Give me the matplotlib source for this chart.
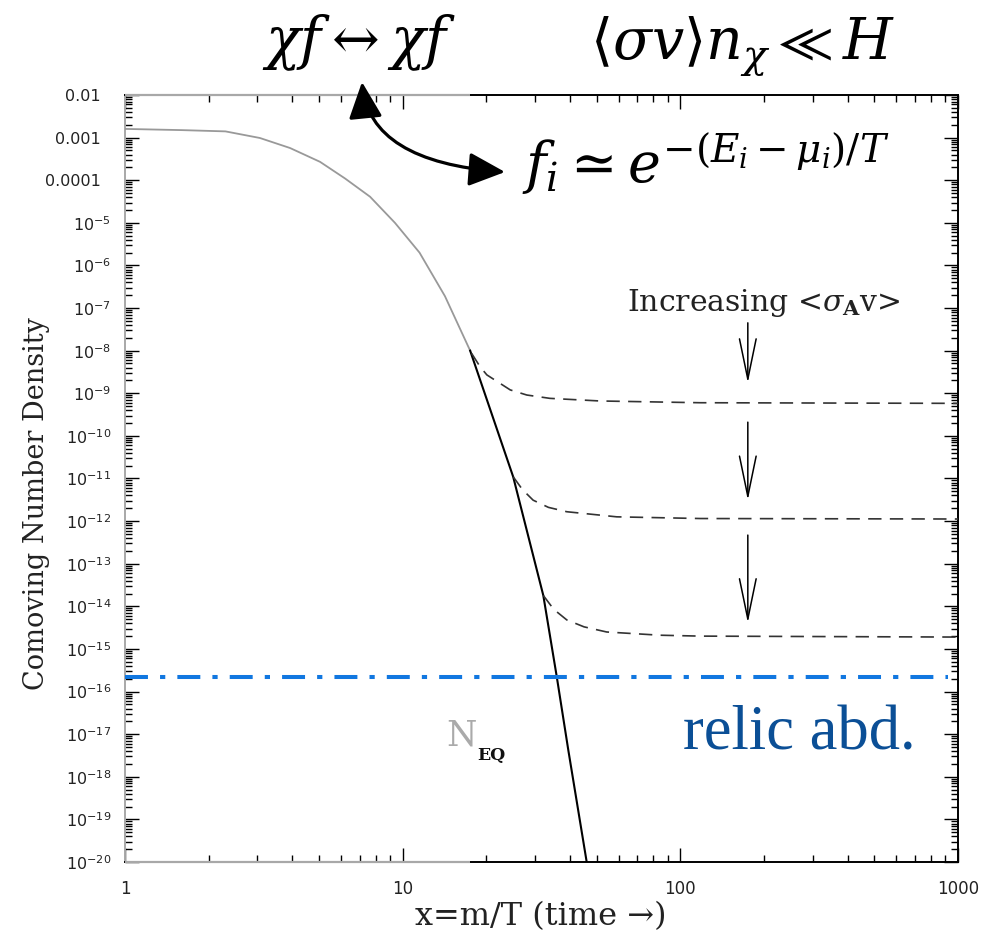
import numpy as np
import matplotlib
matplotlib.use("Agg")
import matplotlib.pyplot as plt
from matplotlib.patches import FancyArrowPatch
from matplotlib.path import Path
from matplotlib.ticker import FixedLocator, FixedFormatter, NullFormatter

# equilibrium abundance N_EQ (grey part, before freeze-out)
eq_x = [1.0, 1.6, 2.3, 3.06, 3.93, 5.04, 6.2, 7.63, 9.38, 11.5, 14.2, 17.5]
eq_y = [1.6e-3, 1.5e-3, 1.4e-3, 9.8e-4, 5.7e-4, 2.7e-4, 1.1e-4, 4.1e-5, 1.0e-5,
        2.0e-6, 1.9e-7, 1.0e-8]
# equilibrium tail (black part)
eq_tail_x = [17.5, 25.0, 32.1, 35.9, 39.5, 46.0]
eq_tail_y = [1.0e-8, 1.1e-11, 1.8e-14, 2.2e-16, 4.2e-18, 1.0e-20]

# frozen-out abundances, one per annihilation cross section
fo1_x = [17.7, 19.0, 20.1, 24.4, 28.0, 33.9, 51.3, 118.0, 1000.0]
fo1_y = [8.7e-9, 4.2e-9, 2.7e-9, 1.2e-9, 9.1e-10, 7.6e-10, 6.6e-10, 6.0e-10, 5.8e-10]
fo2_x = [25.0, 27.0, 29.5, 33.5, 39.0, 59.0, 118.0, 1000.0]
fo2_y = [1.1e-11, 5.5e-12, 3.1e-12, 2.1e-12, 1.66e-12, 1.26e-12, 1.15e-12, 1.12e-12]
fo3_x = [32.1, 35.0, 39.0, 45.0, 54.3, 84.4, 118.0, 1000.0]
fo3_y = [1.8e-14, 8.5e-15, 4.8e-15, 3.3e-15, 2.5e-15, 2.1e-15, 2.0e-15, 1.9e-15]

relic_y = 2.2e-16

# "increasing <sigma v>" arrows: (start, end) in y at x = arrow_x
arrow_x = 175.0
arrow_spans = [(4.5e-8, 1.75e-9), (2.1e-10, 3.1e-12), (4.7e-13, 4.1e-15)]

x_ticks = [1, 10, 100, 1000]
x_tick_labels = ["1", "10", "100", "1000"]
y_ticks = [10.0 ** e for e in range(-20, -1)]
y_tick_labels = [r"$10^{%d}$" % e for e in range(-20, -4)] + ["0.0001  ", "0.001  ", "0.01  "]

GREY = "#a8a8a8"
FREEZE_X = 17.5

W, H = 994, 942
fig = plt.figure(figsize=(W / 100, H / 100), dpi=100)
plt.rcParams["mathtext.fontset"] = "dejavusans"

ax = fig.add_axes([125 / W, 1 - 862 / H, (958 - 125) / W, (862 - 95) / H])
ax.set_xscale("log")
ax.set_yscale("log")
ax.set_xlim(1, 1000)
ax.set_ylim(1e-20, 1e-2)

ax.plot(eq_x, eq_y, color="#999999", lw=1.3, zorder=3)
ax.plot(eq_tail_x, eq_tail_y, color="black", lw=1.5, zorder=3)
for fx, fy in [(fo1_x, fo1_y), (fo2_x, fo2_y), (fo3_x, fo3_y)]:
    ax.plot(fx, fy, color="#333333", lw=1.2, dashes=(8, 5), zorder=3)

ax.axhline(relic_y, xmax=0.988, color="#1177e0", lw=2.9, dashes=(5.7, 3.0, 1.3, 3.0),
           solid_capstyle="butt", dash_capstyle="butt", zorder=4)

for y0, y1 in arrow_spans:
    ax.annotate("", xy=(arrow_x, y1), xytext=(arrow_x, y0),
                arrowprops=dict(arrowstyle="->,head_length=2.9,head_width=0.6",
                                mutation_scale=10, lw=1.1, color="black",
                                shrinkA=0, shrinkB=0))

ax.text(200, 8.5e-8, r"Increasing <$\sigma_{\mathbf{A}}$v>", family="DejaVu Serif",
        fontsize=21.5, ha="center", va="baseline", color="#222222",
        math_fontfamily="dejavuserif")
ax.text(14.4, 5.5e-18, "N", family="DejaVu Serif", fontsize=25, color="#aaaaaa",
        ha="left", va="baseline")
ax.text(18.5, 2.45e-18, "EQ", family="DejaVu Serif", fontsize=12.5,
        fontweight="bold", color="#111111", ha="left", va="baseline")

ax.text(0.670, 0.147, "relic abd.", transform=ax.transAxes, family="Liberation Serif",
        fontsize=45, color="#0b4f96", ha="left", va="baseline")

# ticks
ax.xaxis.set_major_locator(FixedLocator(x_ticks))
ax.xaxis.set_major_formatter(FixedFormatter(x_tick_labels))
x_minor = [m * 10 ** d for d in range(0, 3) for m in range(2, 10)]
ax.xaxis.set_minor_locator(FixedLocator(x_minor))
ax.xaxis.set_minor_formatter(NullFormatter())
ax.yaxis.set_major_locator(FixedLocator(y_ticks))
ax.yaxis.set_major_formatter(FixedFormatter(y_tick_labels))
y_minor = [m * 10.0 ** d for d in range(-20, -2) for m in range(2, 10)]
ax.yaxis.set_minor_locator(FixedLocator(y_minor))
ax.yaxis.set_minor_formatter(NullFormatter())

ax.tick_params(which="both", direction="in", top=True, right=True, width=1.0)
ax.tick_params(which="major", length=10)
ax.tick_params(which="minor", length=5)
ax.tick_params(axis="y", which="major", pad=10, labelsize=11.5, labelcolor="#222222")
ax.tick_params(axis="x", which="major", pad=13, labelsize=12, labelcolor="#222222")

for loc, tick in zip(ax.xaxis.get_majorticklocs(), ax.xaxis.get_major_ticks(len(x_ticks))):
    c = GREY if loc < FREEZE_X else "black"
    tick.tick1line.set_color(c)
    tick.tick2line.set_color(c)
for loc, tick in zip(ax.xaxis.get_minorticklocs(), ax.xaxis.get_minor_ticks(len(x_minor))):
    c = GREY if loc < FREEZE_X else "black"
    tick.tick1line.set_color(c)
    tick.tick2line.set_color(c)
for tick in ax.yaxis.get_major_ticks(len(y_ticks)) + ax.yaxis.get_minor_ticks(len(y_minor)):
    tick.tick1line.set_color(GREY)
    tick.tick2line.set_color("black")

for side in ["top", "bottom", "right"]:
    ax.spines[side].set_color("black")
    ax.spines[side].set_linewidth(1.4)
ax.spines["left"].set_color(GREY)
ax.spines["left"].set_linewidth(1.4)
for yy in (0, 1):
    ax.plot([1, FREEZE_X], [yy, yy], transform=ax.get_xaxis_transform(),
            color=GREY, lw=1.6, clip_on=False, zorder=5, solid_capstyle="butt")

ax.set_xlabel("x=m/T (time \u2192)", family="DejaVu Serif", fontsize=23, color="#222222")
ax.set_ylabel("Comoving Number Density", family="DejaVu Serif", fontsize=19.5,
              color="#222222")
ax.xaxis.set_label_coords(0.4995, -0.051)
ax.yaxis.set_label_coords(-0.09, 0.467)

# formulas above and inside the frame
fig.text(359 / W, 1 - 58 / H, r"$\chi f \leftrightarrow \chi f$",
         math_fontfamily="dejavuserif", fontsize=41, ha="center", va="baseline")
fig.text(590 / W, 1 - 58 / H, r"$\langle \sigma v \rangle n_\chi \ll H$",
         math_fontfamily="dejavuserif", fontsize=41, ha="left", va="baseline")
fig.text(522 / W, 1 - 183 / H, r"$f_i \simeq e^{-(E_i - \mu_i)/T}$",
         math_fontfamily="dejavuserif", fontsize=40, ha="left", va="baseline")

pts = [(362, 82), (370, 162), (505, 172)]
path = Path([(x / W, 1 - y / H) for x, y in pts], [Path.MOVETO, Path.CURVE3, Path.CURVE3])
fig.patches.append(FancyArrowPatch(path=path, transform=fig.transFigure,
                                   arrowstyle="<|-|>,head_length=1.4,head_width=0.65",
                                   mutation_scale=16, lw=2.3, color="black"))

fig.savefig("out.png", dpi=100)
